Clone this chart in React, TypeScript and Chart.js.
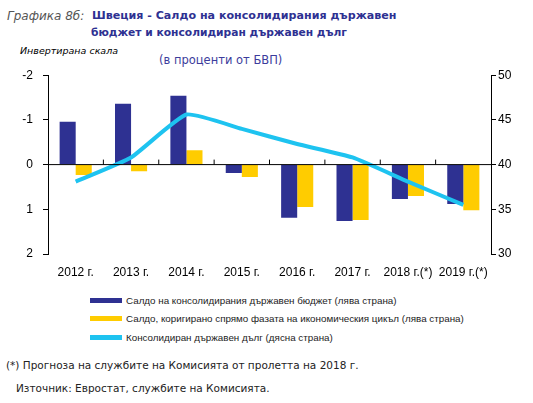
import React, { useEffect, useRef } from 'react';
import { Chart, registerables } from 'chart.js';

Chart.register(...registerables);

const years = ['2012 г.', '2013 г.', '2014 г.', '2015 г.', '2016 г.', '2017 г.', '2018 г.(*)', '2019 г.(*)'];
const budgetBalance = [-0.96, -1.36, -1.54, 0.19, 1.19, 1.26, 0.77, 0.88];
const cyclicalBalance = [0.23, 0.15, -0.32, 0.28, 0.95, 1.24, 0.7, 1.02];
const grossDebt = [38.1, 40.8, 45.6, 44.0, 42.3, 40.8, 38.1, 35.5];

const BLUE = '#2E3192';
const YELLOW = '#FFCC00';
const CYAN = '#1EC3F0';
const TICK_FONT = { family: '"Liberation Sans", Arial, sans-serif', size: 12 };

// zero line across the plot plus the small category ticks on it
const zeroLine = {
  id: 'zeroLine',
  afterDatasetsDraw(chart: any) {
    const { ctx, chartArea, scales } = chart;
    const y0 = scales.y.getPixelForValue(0);
    ctx.save();
    ctx.strokeStyle = '#000';
    ctx.lineWidth = 1;
    ctx.beginPath();
    ctx.moveTo(chartArea.left, y0);
    ctx.lineTo(chartArea.right, y0);
    for (let i = 1; i < years.length; i++) {
      const x = (scales.x.getPixelForValue(i - 1) + scales.x.getPixelForValue(i)) / 2;
      ctx.moveTo(x, y0);
      ctx.lineTo(x, y0 - 5);
    }
    ctx.stroke();
    ctx.restore();
  },
};

const ChartBox: React.FC = () => {
  const canvasRef = useRef<HTMLCanvasElement>(null);

  useEffect(() => {
    const ctx = canvasRef.current?.getContext('2d');
    if (!ctx) return;
    const chart = new Chart(ctx, {
      type: 'bar',
      data: {
        labels: years,
        datasets: [
          {
            type: 'line',
            label: 'Консолидиран държавен дълг (дясна страна)',
            data: grossDebt,
            yAxisID: 'y1',
            borderColor: CYAN,
            borderWidth: 4,
            pointRadius: 0,
            tension: 0.15,
            fill: false,
            order: 0,
          } as any,
          {
            label: 'Салдо на консолидирания държавен бюджет (лява страна)',
            data: budgetBalance,
            yAxisID: 'y',
            backgroundColor: BLUE,
            categoryPercentage: 0.58,
            barPercentage: 1,
            order: 1,
          },
          {
            label: 'Салдо, коригирано спрямо фазата на икономическия цикъл (лява страна)',
            data: cyclicalBalance,
            yAxisID: 'y',
            backgroundColor: YELLOW,
            categoryPercentage: 0.58,
            barPercentage: 1,
            order: 1,
          },
        ],
      },
      options: {
        animation: false,
        responsive: true,
        maintainAspectRatio: false,
        layout: { padding: { top: 13, left: 0, right: 0, bottom: 0 } },
        plugins: { legend: { display: false }, tooltip: { enabled: false } },
        scales: {
          x: {
            grid: { display: false },
            border: { display: false },
            ticks: { color: '#000', font: TICK_FONT, padding: 3, maxRotation: 0, autoSkip: false },
            afterFit: (s: any) => { s.height = 30; },
          },
          y: {
            position: 'left',
            reverse: true,
            min: -2,
            max: 2,
            ticks: { stepSize: 1, color: '#000', font: TICK_FONT, padding: 10 },
            grid: { drawOnChartArea: false, color: '#000', tickLength: 5 },
            border: { color: '#000' },
            afterFit: (s: any) => { s.width = 48; },
          },
          y1: {
            position: 'right',
            min: 30,
            max: 50,
            ticks: { stepSize: 5, color: '#000', font: TICK_FONT, padding: 2 },
            grid: { drawOnChartArea: false, color: '#000', tickLength: 5 },
            border: { color: '#000' },
            afterFit: (s: any) => { s.width = 42; },
          },
        },
      },
      plugins: [zeroLine],
    });
    return () => chart.destroy();
  }, []);

  return <canvas ref={canvasRef} />;
};

const legendItems = [
  { color: BLUE, text: 'Салдо на консолидирания държавен бюджет (лява страна)' },
  { color: YELLOW, text: 'Салдо, коригирано спрямо фазата на икономическия цикъл (лява страна)' },
  { color: CYAN, text: 'Консолидиран държавен дълг (дясна страна)' },
];

const SANS = '"DejaVu Sans", "Open Sans", sans-serif';

export default function App() {
  return (
    <div style={{ position: 'absolute', left: 0, top: 0, width: 533, height: 403, background: '#fff', fontFamily: SANS, overflow: 'hidden' }}>
      <div style={{ position: 'absolute', left: 7, top: 8, fontSize: 12, whiteSpace: 'nowrap', lineHeight: '16px', color: '#555', fontStyle: 'italic' }}>
        Графика 8б:
      </div>
      <div style={{ position: 'absolute', left: 92, top: 8, fontSize: 11.1, whiteSpace: 'nowrap', lineHeight: '16px', color: BLUE, fontWeight: 'bold' }}>
        Швеция - Салдо на консолидирания държавен
      </div>
      <div style={{ position: 'absolute', left: 91, top: 25, fontSize: 10.7, whiteSpace: 'nowrap', lineHeight: '16px', color: BLUE, fontWeight: 'bold' }}>
        бюджет и консолидиран държавен дълг
      </div>
      <div style={{ position: 'absolute', left: 20, top: 45, fontSize: 9.5, fontStyle: 'italic', color: '#000', whiteSpace: 'nowrap' }}>
        Инвертирана скала
      </div>
      <div style={{ position: 'absolute', left: 159, top: 53, fontSize: 11.5, color: '#3c3c9c', whiteSpace: 'nowrap' }}>
        (в проценти от БВП)
      </div>
      <div style={{ position: 'absolute', left: 0, top: 58, width: 533, height: 226 }}>
        <ChartBox />
      </div>
      {legendItems.map((it, i) => (
        <div key={i} style={{ position: 'absolute', left: 90, top: 293 + i * 18.5, height: 14, display: 'flex', alignItems: 'center', whiteSpace: 'nowrap' }}>
          <div style={{ width: 32, height: 5, background: it.color, marginRight: 4 }} />
          <span style={{ fontSize: 9.8, color: '#222', fontFamily: '"Liberation Sans", Arial, sans-serif' }}>{it.text}</span>
        </div>
      ))}
      <div style={{ position: 'absolute', left: 6, top: 359, fontSize: 10.5, color: '#222', whiteSpace: 'nowrap' }}>
        (*) Прогноза на службите  на Комисията от пролетта на 2018 г.
      </div>
      <div style={{ position: 'absolute', left: 16, top: 382, fontSize: 10.5, color: '#222', whiteSpace: 'nowrap' }}>
        Източник: Евростат, службите  на Комисията.
      </div>
    </div>
  );
}
